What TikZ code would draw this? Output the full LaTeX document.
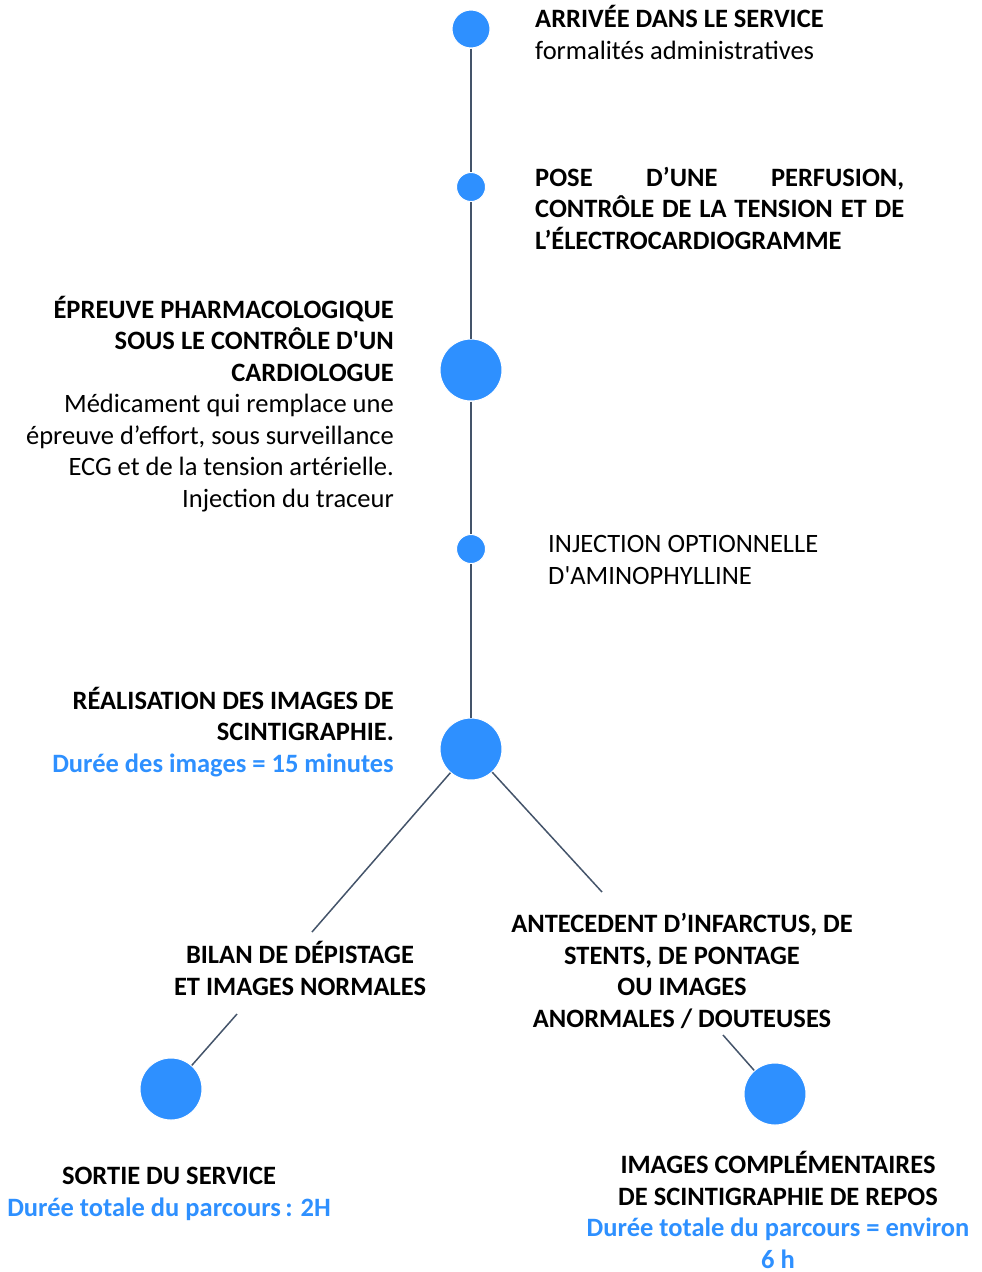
\documentclass[tikz,border=0pt]{standalone}
\usepackage{fontspec}
\setmainfont{Carlito}
\definecolor{dotblue}{RGB}{46,144,255}
\definecolor{stemgray}{RGB}{68,84,106}

\begin{document}
\begin{tikzpicture}[x=1pt, y=-1pt,
	dot/.style={circle, fill=dotblue, draw=white, line width=1pt, inner sep=0pt, minimum size=#1},
	txt/.style={inner sep=0pt, font=\fontsize{26.5}{31.5}\selectfont},
	stem/.style={draw=stemgray, line width=1.5pt}]

\useasboundingbox (0,0) rectangle (982,1272);

%timeline
\node[dot=38pt] (arrivee) at (471,29) {};
\node[dot=29pt] (pose) at (471,187) {};
\node[dot=62pt] (epreuve) at (471,370) {};
\node[dot=29pt] (amino) at (471,549) {};
\node[dot=62pt] (images) at (471,749) {};
\node[dot=62pt] (sortie) at (171,1089) {};
\node[dot=62pt] (repos) at (775,1094) {};

\draw[stem] (arrivee) -- (pose);
\draw[stem] (pose) -- (epreuve);
\draw[stem] (epreuve) -- (amino);
\draw[stem] (amino) -- (images);

%branches
\coordinate (bilan-in) at (312,932);
\coordinate (bilan-out) at (237,1014);
\coordinate (antecedent-in) at (602,892);
\coordinate (antecedent-out) at (723,1035);
\draw[stem] (images) -- (bilan-in);
\draw[stem] (images) -- (antecedent-in);
\draw[stem] (bilan-out) -- (sortie);
\draw[stem] (antecedent-out) -- (repos);

%texts (base = last line)
\node[txt, anchor=base west, align=left] (arrivee-txt) at (535,59)
	{\textbf{ARRIVÉE DANS LE SERVICE}\\formalités administratives};
\node[txt, anchor=base west, align=left, font=\fontsize{26.5}{31.5}\selectfont\bfseries] (pose-txt) at (535,249)
	{\makebox[369pt][s]{POSE\hfill D’UNE\hfill PERFUSION,}\\
	\makebox[369pt][s]{CONTRÔLE\hfill DE\hfill LA\hfill TENSION\hfill ET\hfill DE}\\L’ÉLECTROCARDIOGRAMME};
\node[txt, anchor=base east, align=right] (epreuve-txt) at (394,507)
	{\textbf{ÉPREUVE PHARMACOLOGIQUE}\\\textbf{SOUS LE CONTRÔLE D\textquotesingle UN}\\\textbf{CARDIOLOGUE}\\
	Médicament qui remplace une\\épreuve d’effort, sous surveillance\\ECG et de la tension artérielle.\\Injection du traceur};
\node[txt, anchor=base west, align=left] (amino-txt) at (548,584)
	{INJECTION OPTIONNELLE\\D\textquotesingle AMINOPHYLLINE};
\node[txt, anchor=base east, align=right] (images-txt) at (394,772)
	{\textbf{RÉALISATION DES IMAGES DE}\\\textbf{SCINTIGRAPHIE.}\\\textcolor{dotblue}{\textbf{Durée des images = 15 minutes}}};
\node[txt, anchor=base, align=center] (bilan-txt) at (300,995)
	{\textbf{BILAN DE DÉPISTAGE}\\\textbf{ET IMAGES NORMALES}};
\node[txt, anchor=base, align=center] (antecedent-txt) at (682,1027)
	{\textbf{ANTECEDENT D’INFARCTUS, DE}\\\textbf{STENTS, DE PONTAGE}\\\textbf{OU IMAGES}\\\textbf{ANORMALES / DOUTEUSES}};
\node[txt, anchor=base, align=center] (sortie-txt) at (169,1216)
	{\textbf{SORTIE DU SERVICE}\\\textcolor{dotblue}{\textbf{Durée totale du parcours\,: 2H}}};
\node[txt, anchor=base, align=center] (repos-txt) at (778,1268)
	{\textbf{IMAGES COMPLÉMENTAIRES}\\\textbf{DE SCINTIGRAPHIE DE REPOS}\\
	\textcolor{dotblue}{\textbf{Durée totale du parcours = environ}}\\\textcolor{dotblue}{\textbf{6 h}}};

\end{tikzpicture}
\end{document}
